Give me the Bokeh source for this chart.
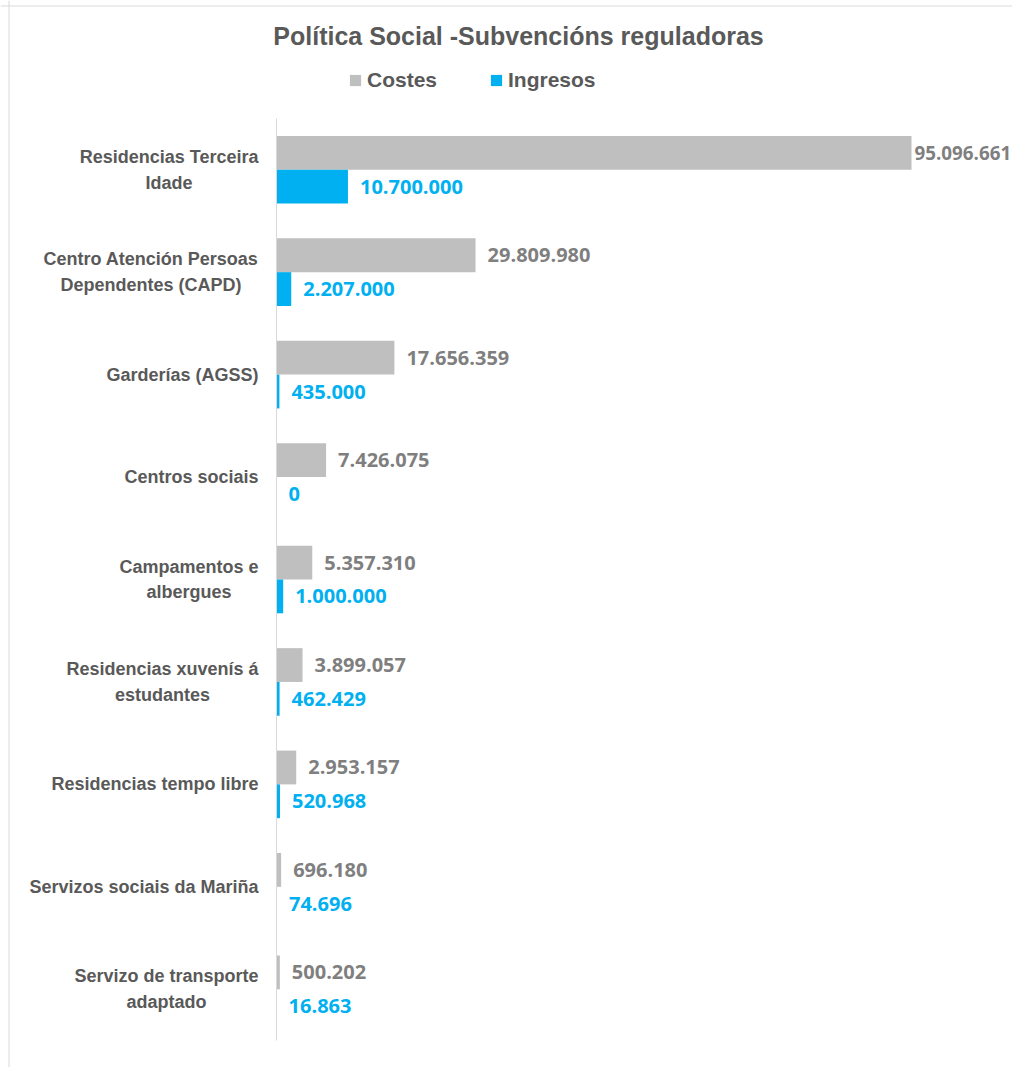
from bokeh.plotting import figure
from bokeh.models import ColumnDataSource, Range1d, Span, Label, Legend, LegendItem
from bokeh.core.properties import value
from bokeh.embed import file_html
from bokeh.resources import INLINE

# ---- data ----
categories = [
    "Residencias Terceira\nIdade",
    "Centro Atención Persoas\nDependentes (CAPD)",
    "Garderías (AGSS)",
    "Centros sociais",
    "Campamentos e\nalbergues",
    "Residencias xuvenís á\nestudantes",
    "Residencias tempo libre",
    "Servizos sociais da Mariña",
    "Servizo de transporte\nadaptado",
]
costes = [95096661, 29809980, 17656359, 7426075, 5357310, 3899057, 2953157, 696180, 500202]
ingresos = [10700000, 2207000, 435000, 0, 1000000, 462429, 520968, 74696, 16863]
series_names = ["Costes", "Ingresos"]
title_text = "Política Social -Subvencións reguladoras"

# ---- styling ----
GRAY = "#BFBFBF"
BLUE = "#00B0F0"
TXT = "#595959"
LBL_GRAY = "#7F7F7F"

W, H = 1012, 1067
PX_PER_UNIT_X = 635 / 95096661.0   # pixels per value unit
X0_PX = 276                          # zero position in figure px
xmin = -X0_PX / PX_PER_UNIT_X
xmax = (W - X0_PX) / PX_PER_UNIT_X

n = len(categories)
PX_PER_CAT = 922 / n
TOP_PX, BOT_PX = 118, H - 1040
ymin = -BOT_PX / PX_PER_CAT
ymax = n + TOP_PX / PX_PER_CAT

def fmt(v):
    return f"{v:,}".replace(",", ".")

# value-label placement: keep labels inside the canvas
LBL_SIZE = 20.0
LBL_OFF = 12
def lbl_layout(vals):
    offs, sizes = [], []
    for v in vals:
        s = fmt(v)
        em = 0.572 * sum(ch.isdigit() for ch in s) + 0.286 * s.count(".")
        end_px = X0_PX + v * PX_PER_UNIT_X
        if end_px + LBL_OFF + em * LBL_SIZE > W - 1:
            off = 3
            size = min(LBL_SIZE, (W - 1 - end_px - off) / em)
        else:
            off, size = LBL_OFF, LBL_SIZE
        offs.append(off)
        sizes.append(f"{size:.1f}px")
    return offs, sizes

c_off, c_size = lbl_layout(costes)
i_off, i_size = lbl_layout(ingresos)

centers = [n - i - 0.5 for i in range(n)]
bar_h = 0.33
src = ColumnDataSource(dict(
    cat=categories,
    yc=centers,
    y_cost=[c + bar_h / 2 for c in centers],
    y_ing=[c - bar_h / 2 for c in centers],
    costes=costes,
    ingresos=ingresos,
    lbl_cost=[fmt(v) for v in costes],
    lbl_ing=[fmt(v) for v in ingresos],
    c_off=c_off, c_size=c_size, i_off=i_off, i_size=i_size,
))

p = figure(width=W, height=H, output_backend="svg", toolbar_location=None,
           x_range=Range1d(xmin, xmax), y_range=Range1d(ymin, ymax),
           min_border=0, min_border_left=0, min_border_right=0,
           min_border_top=0, min_border_bottom=0)
p.axis.visible = False
p.xgrid.visible = False
p.ygrid.visible = False
p.outline_line_color = None
p.background_fill_color = "white"
p.border_fill_color = "white"

# chart-area borders (left and top)
p.add_layout(Span(location=xmin + 8.5 / PX_PER_UNIT_X, dimension="height",
                  line_color="#D9D9D9", line_width=1))
p.add_layout(Span(location=ymax - 5.5 / PX_PER_CAT, dimension="width",
                  line_color="#D9D9D9", line_width=1))

# bars
r_cost = p.hbar(y="y_cost", left=0, right="costes", height=bar_h, source=src,
                fill_color=GRAY, line_color=None)
r_ing = p.hbar(y="y_ing", left=0, right="ingresos", height=bar_h, source=src,
               fill_color=BLUE, line_color=None)

# category axis line
p.segment(x0=0, x1=0, y0=0, y1=n, line_color="#D9D9D9", line_width=1)

# category labels
p.text(x=0, y="yc", text="cat", source=src, x_offset=-18,
       anchor="center_right", text_align="center", text_baseline="middle",
       text_font=value("Liberation Sans"), text_font_style="bold",
       text_font_size="18px", text_color=TXT, text_line_height=1.28)

# value labels
p.text(x="costes", y="y_cost", text="lbl_cost", source=src, x_offset="c_off",
       text_align="left", text_baseline="middle",
       text_font=value("Open Sans"), text_font_style="bold",
       text_font_size="c_size", text_color=LBL_GRAY)
p.text(x="ingresos", y="y_ing", text="lbl_ing", source=src, x_offset="i_off",
       text_align="left", text_baseline="middle",
       text_font=value("Open Sans"), text_font_style="bold",
       text_font_size="i_size", text_color=BLUE)

# title
p.add_layout(Label(x=518, y=H - 35, x_units="screen", y_units="screen",
                   text=title_text, text_align="center", text_baseline="middle",
                   text_font="Liberation Sans", text_font_style="bold",
                   text_font_size="25px", text_color=TXT))

# legends
for r, name, loc in [(r_cost, series_names[0], (348, H - 92)),
                     (r_ing, series_names[1], (489, H - 92))]:
    lg = Legend(items=[LegendItem(label=name, renderers=[r])], location=loc,
                orientation="horizontal", padding=0, margin=0, spacing=0,
                glyph_width=14, glyph_height=14, label_standoff=5,
                label_height=20, label_text_font="Liberation Sans",
                label_text_font_style="bold", label_text_font_size="21px",
                label_text_color=TXT, border_line_color=None,
                background_fill_alpha=0)
    p.add_layout(lg, "center")

open("out.html", "w").write(file_html(p, INLINE))
